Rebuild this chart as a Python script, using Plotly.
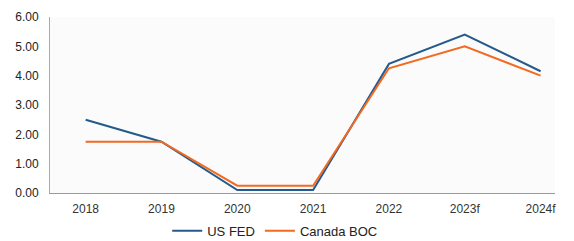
import plotly.graph_objects as go

years = ["2018", "2019", "2020", "2021", "2022", "2023f", "2024f"]
us_fed = [2.5, 1.75, 0.1, 0.1, 4.4, 5.4, 4.15]
canada_boc = [1.75, 1.75, 0.25, 0.25, 4.25, 5.0, 4.0]
y_ticks = [0, 1, 2, 3, 4, 5, 6]

fig = go.Figure()
fig.add_trace(go.Scatter(x=years, y=us_fed, mode="lines", name="US FED",
                         line=dict(color="#245a8c", width=2)))
fig.add_trace(go.Scatter(x=years, y=canada_boc, mode="lines", name="Canada BOC",
                         line=dict(color="#f26a22", width=2)))

fig.update_layout(
    width=566, height=233,
    margin=dict(l=42, r=19, t=9, b=48, autoexpand=False),
    paper_bgcolor="white", plot_bgcolor="#fbfbfb",
    font=dict(family="Liberation Sans, Arial, sans-serif", size=12, color="#222"),
    showlegend=True,
    legend=dict(orientation="h", x=0.445, xanchor="center", y=-0.215, yanchor="middle",
                font=dict(size=13, color="#222"), itemwidth=30, bgcolor="rgba(0,0,0,0)"),
)
fig.update_xaxes(type="category", range=[-0.47, 6.19], showgrid=False, automargin=False,
                 showline=True, linecolor="#999", linewidth=1,
                 ticks="outside", ticklen=5, tickcolor="rgba(0,0,0,0)",
                 tickfont=dict(size=12, color="#333"))
fig.update_yaxes(range=[0, 6], tickvals=y_ticks, tickformat=".2f", showgrid=False, automargin=False,
                 showline=True, linecolor="#aaa", linewidth=1, zeroline=False,
                 ticks="outside", ticklen=8, tickcolor="rgba(0,0,0,0)",
                 tickfont=dict(size=12, color="#222"))

fig.write_html("out.html")
